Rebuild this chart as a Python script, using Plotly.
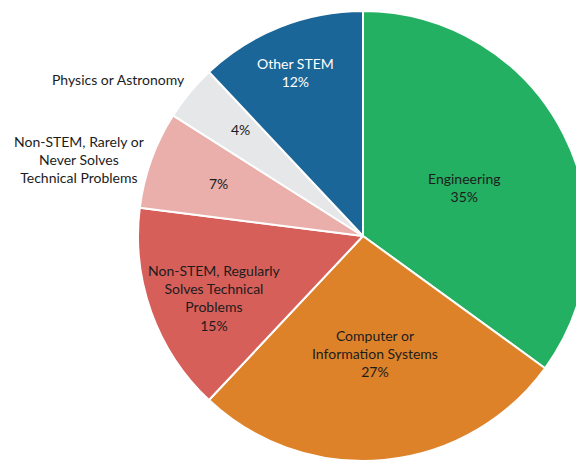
import plotly.graph_objects as go

# Share of respondents by field, clockwise from 12 o'clock
labels = [
    "Engineering",
    "Computer or<br>Information Systems",
    "Non-STEM, Regularly<br>Solves Technical<br>Problems",
    "Non-STEM, Rarely or<br>Never Solves<br>Technical Problems",
    "Physics or Astronomy",
    "Other STEM",
]
values = [35, 27, 15, 7, 4, 12]
colors = ["#24B062", "#DE822A", "#D65F5A", "#EAAEAB", "#E6E7E9", "#1B6698"]

W, H = 592, 468
cx, cy, r = 363, 236, 225

fig = go.Figure(
    go.Pie(
        labels=labels,
        values=values,
        sort=False,
        direction="clockwise",
        rotation=0,
        marker=dict(colors=colors, line=dict(color="white", width=2)),
        textinfo="none",
        hoverinfo="label+percent",
        showlegend=False,
        domain=dict(x=[(cx - r) / W, (cx + r) / W], y=[(H - cy - r) / H, (H - cy + r) / H]),
    )
)

FONT = "Lato"
dark = "#1c1c1c"


def ann(px, py, text, color=dark):
    fig.add_annotation(
        x=px / W, y=1 - py / H, xref="paper", yref="paper",
        xanchor="center", yanchor="middle",
        text=text, showarrow=False, align="center",
        font=dict(family=FONT, size=14, color=color),
    )


# labels drawn inside the slices: name and share
ann(464, 187, f"{labels[0]}<br>{values[0]}%")
ann(375, 353, f"{labels[1]}<br>{values[1]}%")
ann(214, 298, f"{labels[2]}<br>{values[2]}%")
ann(295, 72, f"{labels[5]}<br>{values[5]}%", color="white")

# small slices: share inside, name outside to the left
ann(218, 184, f"{values[3]}%")
ann(240, 129, f"{values[4]}%")
ann(79, 159, labels[3])
ann(118, 79, labels[4])

fig.update_layout(
    width=W, height=H,
    margin=dict(l=0, r=0, t=0, b=0),
    paper_bgcolor="white",
    plot_bgcolor="white",
)

fig.write_html("out.html")
